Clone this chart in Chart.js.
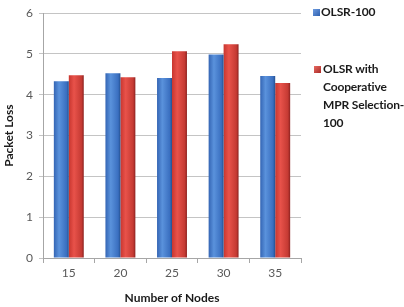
<!DOCTYPE html>
<html lang="en">
<head>
<meta charset="UTF-8">
<title>Packet Loss</title>
<script src="https://cdn.jsdelivr.net/npm/chart.js"></script>
<style>
  body { margin: 0; background: #fff; }
  #wrap { position: relative; width: 404px; height: 307px; }
  .leg { position: absolute; font: bold 12px Lato, sans-serif; color: #1a1a1a; line-height: 18px; white-space: nowrap; letter-spacing: -0.15px; }
  .sw { position: absolute; width: 7px; height: 7px; }
</style>
</head>
<body>
<div id="wrap">
  <canvas id="lossChart" width="404" height="307"></canvas>
  <div class="sw" style="left:313px;top:9px;background:linear-gradient(135deg,#6d9be0,#2d5fae);"></div>
  <div class="leg" style="left:321px;top:3px;">OLSR-100</div>
  <div class="sw" style="left:314px;top:66px;background:linear-gradient(135deg,#e86a62,#a82a26);"></div>
  <div class="leg" style="left:323px;top:60px;">OLSR with<br>Cooperative<br>MPR Selection-<br>100</div>
</div>
<script>
  // chart data
  const nodes = ['15', '20', '25', '30', '35'];
  const olsr = [4.33, 4.53, 4.41, 4.99, 4.46];
  const olsrCoop = [4.48, 4.43, 5.07, 5.24, 4.29];
  const yTicks = [0, 1, 2, 3, 4, 5, 6];

  const catPct = 0.58;

  // horizontal shading so the bars look round like the original
  function shade(stops) {
    return (c) => {
      const chart = c.chart;
      const xs = chart.scales.x;
      if (!xs || c.type !== 'data' || !xs.width) return stops[1];
      const center = xs.getPixelForValue(c.dataIndex);
      const w = (xs.width / nodes.length) * catPct / 2;
      const left = c.datasetIndex === 0 ? center - w : center;
      const g = chart.ctx.createLinearGradient(left, 0, left + w, 0);
      g.addColorStop(0, stops[0]);
      g.addColorStop(0.35, stops[1]);
      g.addColorStop(0.85, stops[2]);
      g.addColorStop(1, stops[3]);
      return g;
    };
  }

  const ctx = document.getElementById('lossChart').getContext('2d');
  new Chart(ctx, {
    type: 'bar',
    data: {
      labels: nodes,
      datasets: [{
        label: 'OLSR-100',
        data: olsr,
        backgroundColor: shade(['#3465b4', '#5a92dc', '#3a6fc0', '#24508f'])
      }, {
        label: 'OLSR with Cooperative MPR Selection-100',
        data: olsrCoop,
        backgroundColor: shade(['#c8362f', '#e8524a', '#c53a33', '#8c2220'])
      }]
    },
    options: {
      responsive: false,
      animation: false,
      layout: { padding: { top: 5, right: 103, bottom: 0, left: 0 } },
      datasets: { bar: { categoryPercentage: catPct, barPercentage: 1 } },
      plugins: { legend: { display: false }, tooltip: { enabled: false } },
      scales: {
        x: {
          grid: { offset: true, drawOnChartArea: false, tickLength: 5, color: '#a6a6a6' },
          border: { color: '#a6a6a6' },
          ticks: { color: '#595959', font: { family: 'Lato', size: 12 }, padding: 3 },
          title: {
            display: true, text: 'Number of Nodes', color: '#1a1a1a',
            font: { family: 'Lato', size: 12, weight: 'bold' }, padding: { top: 0, bottom: 2 }
          },
          afterFit: (s) => { s.height = 49; }
        },
        y: {
          min: 0, max: 6,
          afterBuildTicks: (s) => { s.ticks = yTicks.map(v => ({ value: v })); },
          grid: { color: '#c4c4c4', tickLength: 4 },
          border: { color: '#a6a6a6' },
          ticks: { color: '#595959', font: { family: 'Lato', size: 12 }, padding: 6 },
          title: {
            display: true, text: 'Packet Loss', color: '#1a1a1a',
            font: { family: 'Lato', size: 12, weight: 'bold' }, padding: { top: 2, bottom: 2 }
          },
          afterFit: (s) => { s.width = 43; }
        }
      }
    }
  });
</script>
</body>
</html>
